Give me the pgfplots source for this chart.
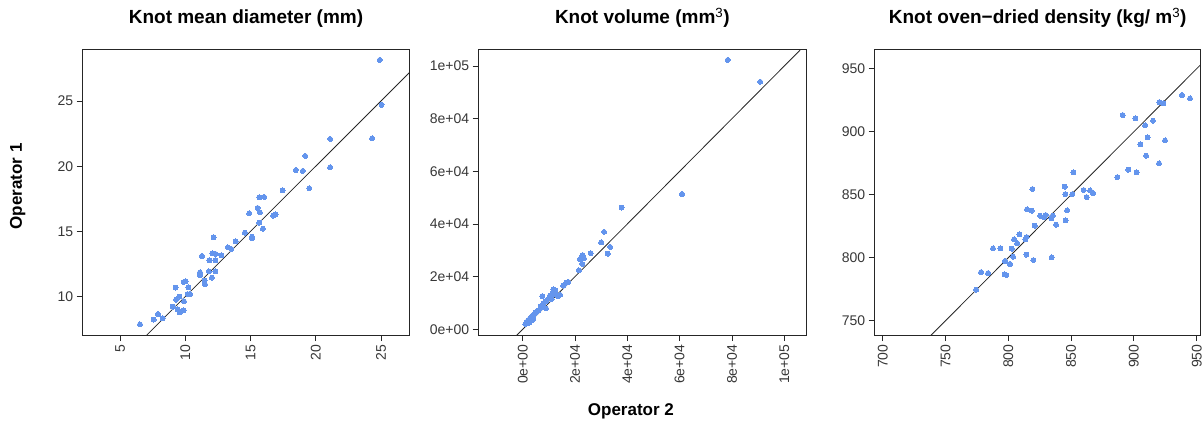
\documentclass[border=0pt]{standalone}
\usepackage{fontspec}
\setmainfont{Liberation Sans}
\usepackage{pgfplots}
\pgfplotsset{compat=1.18}
\definecolor{ptblue}{RGB}{100,149,237}
\definecolor{tickgray}{RGB}{55,55,55}

\pgfplotsset{
  panel/.style={
    scale only axis, width=326.6pt, height=285.7pt,
    anchor=south west,
    axis line style={black!85, line width=0.9pt},
    tick align=outside, major tick length=6pt,
    tick style={black!85, line width=0.9pt},
    tick pos=left,
    ticklabel style={font=\fontsize{14}{14}\selectfont, text=tickgray},
    xticklabel style={rotate=90, anchor=east},
    scaled ticks=false,
    title style={font=\bfseries\fontsize{19}{19}\selectfont, at={(0.5,1)}, anchor=base, yshift=20pt},
  },
  pts/.style={ptblue, only marks, mark=*, mark size=2.5pt, mark options={solid, draw=ptblue, fill=ptblue, line width=0pt}},
  idline/.style={black!85, line width=0.8pt, no marks},
}

\begin{document}
\begin{tikzpicture}
\useasboundingbox (0,0) rectangle (1203pt,421pt);

% diameter
\begin{axis}[panel, at={(82.7pt,86pt)},
  xmin=2.14, xmax=27.17, ymin=7.06, ymax=28.96,
  xtick={5,10,15,20,25}, xticklabels={5,10,15,20,25},
  ytick={10,15,20,25}, yticklabels={10,15,20,25},
  title={Knot mean diameter (mm)},
  ylabel={Operator 1},
  ylabel style={font=\bfseries\fontsize{17}{17}\selectfont, at={(axis description cs:-0.199,0.52)}, anchor=center}]
\addplot[idline] coordinates {(0,0) (30,30)};
\addplot[pts] coordinates {
(24.91,28.15) (25.04,24.70) (24.32,22.14) (21.10,22.09) (21.10,19.92)
(19.19,20.79) (18.48,19.71) (19.01,19.64) (19.50,18.31) (17.46,18.15)
(15.67,17.62) (16.05,17.64) (14.90,16.39) (15.54,16.80) (15.72,16.47)
(16.74,16.21) (16.92,16.31) (15.67,15.67) (15.95,15.21) (14.57,14.91)
(15.11,14.60) (15.11,14.47) (13.86,14.24) (13.27,13.78) (13.52,13.66)
(12.17,14.55) (12.76,13.17) (12.07,13.32) (12.33,13.27) (11.28,13.12)
(11.84,12.79) (12.30,12.79) (12.30,11.94) (11.81,11.94) (12.04,11.46)
(11.13,11.87) (11.13,11.66) (11.48,11.23) (11.51,10.95) (9.88,11.12)
(10.03,11.18) (9.26,10.69) (10.23,10.72) (10.18,10.20) (10.36,10.20)
(9.54,10.00) (9.29,9.77) (9.90,9.64) (9.03,9.23) (9.42,9.03)
(9.57,8.80) (9.88,8.95) (7.91,8.67) (7.58,8.24) (8.27,8.34)
(6.53,7.88) (9.62,8.86)
};
\end{axis}

% volume
\begin{axis}[panel, at={(478.7pt,86pt)}, width=327.3pt,
  xmin=-16820, xmax=108300, ymin=-2165, ymax=106340,
  xtick={0,20000,40000,60000,80000,100000},
  xticklabels={0e+00,2e+04,4e+04,6e+04,8e+04,1e+05},
  ytick={0,20000,40000,60000,80000,100000},
  yticklabels={0e+00,2e+04,4e+04,6e+04,8e+04,1e+05},
  title={Knot volume (mm\textsuperscript{\mdseries 3})},
  xlabel={Operator 2},
  xlabel style={font=\bfseries\fontsize{17}{17}\selectfont, at={(axis description cs:0.465,-0.266)}, anchor=center}]
\addplot[idline] coordinates {(-20000,-20000) (120000,120000)};
\addplot[pts] coordinates {
(78400,102300) (90800,94000) (60900,51400) (37800,46200) (31100,37000)
(30000,33000) (33400,31300) (32500,28700) (26000,28900) (22900,28200)
(22400,27300) (23400,27000) (21900,26700) (22800,24800) (21500,22400)
(17400,18000) (16600,17700) (15500,16600) (11700,15200) (12500,14700)
(11500,14100) (12300,13400) (13000,13000) (13600,12600) (10400,12800)
(7500,12600) (9200,11100) (11100,11500) (8600,10500) (7900,9900)
(6900,8800) (8900,8000) (7100,8200) (5600,7000) (4800,6300)
(4300,5700) (3600,5100) (2800,4200) (2100,3500) (1500,2800)
(1000,2000) (3300,3300) (4100,3900) (2500,2500) (6100,7300)
(14300,13100)
};
\end{axis}

% density
\begin{axis}[panel, at={(874.7pt,86pt)}, width=326pt,
  xmin=693.6, xmax=953.2, ymin=738.65, ymax=965.4,
  xtick={700,750,800,850,900,950}, xticklabels={700,750,800,850,900,950},
  ytick={750,800,850,900,950}, yticklabels={750,800,850,900,950},
  title={Knot oven−dried density (kg/ m\textsuperscript{\mdseries 3})}]
\addplot[idline] coordinates {(600,600) (1000,1000)};
\addplot[pts] coordinates {
(938.3,929.1) (944.7,926.5) (920.3,923.5) (923.5,922.5) (891.1,913.2)
(901.2,910.6) (915.2,908.7) (908.9,905.0) (911.0,895.5) (924.8,893.1)
(905.1,890.0) (909.7,881.0) (920.0,874.9) (895.6,869.8) (902.2,867.7)
(886.8,864.0) (851.8,867.7) (844.9,856.3) (860.0,853.7) (865.1,853.4)
(867.5,851.1) (845.4,850.5) (851.0,850.5) (862.4,848.1) (819.2,854.5)
(814.9,838.4) (818.6,837.3) (846.8,837.6) (825.3,833.3) (828.5,832.0)
(829.8,833.9) (834.3,831.2) (835.4,833.3) (821.0,825.4) (838.0,826.2)
(845.7,829.6) (808.8,818.5) (804.6,814.6) (807.0,811.4) (813.6,814.6)
(814.6,816.4) (802.7,807.1) (787.8,807.4) (793.7,807.4) (803.8,800.8)
(814.4,802.4) (820.0,798.1) (834.6,800.3) (797.4,797.4) (801.4,795.0)
(778.3,788.6) (783.9,787.8) (797.1,786.8) (798.5,786.2) (774.3,774.6)
};
\end{axis}
\end{tikzpicture}
\end{document}
